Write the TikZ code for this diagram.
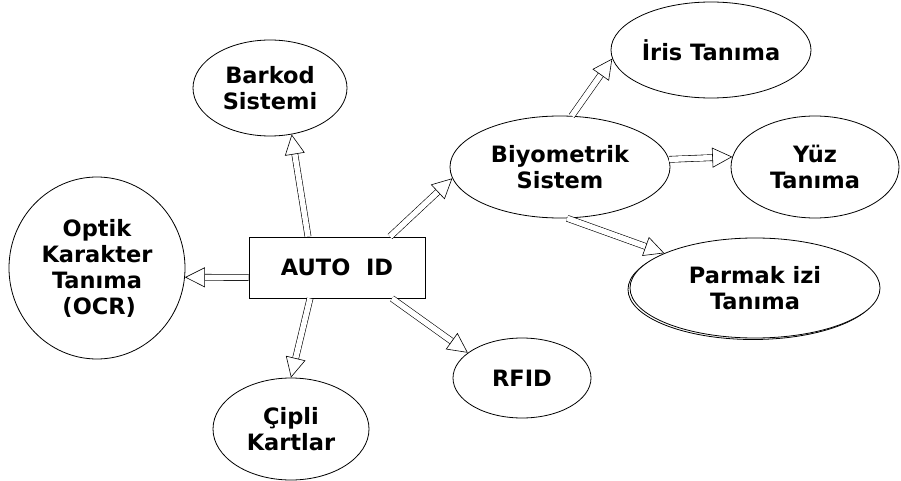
\documentclass[tikz,border=0pt]{standalone}
\usepackage{fontspec}
\setmainfont{DejaVu Sans}
\usetikzlibrary{shapes.geometric,arrows.meta}

\tikzset{
  kutu/.style={draw,line width=0.9pt,minimum width=176pt,minimum height=61pt,inner sep=0pt},
  oval/.style={draw,ellipse,line width=0.8pt,inner sep=0pt,align=center},
  blokok/.style={line width=0.6pt,double=white,double distance=5.5pt,
    -{Triangle[open,length=20pt,width=20pt,line width=0.6pt]}}
}

\begin{document}
\begin{tikzpicture}[x=1pt,y=-1pt,font=\fontsize{22.5}{26}\selectfont\bfseries]
  \useasboundingbox (0,0) rectangle (901,481);

  % Merkez
  \node[kutu] (autoid) at (337,267.5) {AUTO\ \ ID};

  % Sol taraf
  \node[oval,minimum width=154pt,minimum height=96pt] (barkod) at (270,88) {Barkod\\Sistemi};
  \node[oval,minimum width=176pt,minimum height=182pt] (ocr) at (97,268) {Optik\\Karakter\\Tanıma\hspace{0.6em}\\\hspace{0.2em}(OCR)};
  \node[oval,minimum width=156pt,minimum height=102pt] (cipli) at (291,429) {Çipli\\Kartlar};
  \node[oval,minimum width=138pt,minimum height=80pt] (rfid) at (522,378) {RFID};

  % Biyometrik kol
  \node[oval,minimum width=220pt,minimum height=102pt] (biyo) at (560,167) {Biyometrik\\Sistem};
  \node[oval,minimum width=200pt,minimum height=96pt] (iris) at (711,50) {İris Tanıma};
  \node[oval,minimum width=168pt,minimum height=102pt] (yuz) at (815,167) {Yüz\\Tanıma};
  \draw[line width=0.8pt] (753,289.5) ellipse (125 and 50);
  \node[oval,fill=white,minimum width=250pt,minimum height=100pt] (parmak) at (755,288) {Parmak izi\\Tanıma};

  % Oklar
  \draw[blokok] ([xshift=-29pt]autoid.north) -- (barkod.-65);
  \draw[blokok] ([yshift=-10pt]autoid.west) -- (ocr.-6);
  \draw[blokok] ([xshift=-27pt]autoid.south) -- (cipli.north);
  \draw[blokok] ([xshift=55pt]autoid.south) -- (rfid.155);
  \draw[blokok] ([xshift=53pt]autoid.north) -- (biyo.186);
  \draw[blokok] (biyo.77) -- (iris.185);
  \draw[blokok] (biyo.4) -- (yuz.173);
  \draw[blokok] (biyo.-82) -- (parmak.159);

\end{tikzpicture}
\end{document}
